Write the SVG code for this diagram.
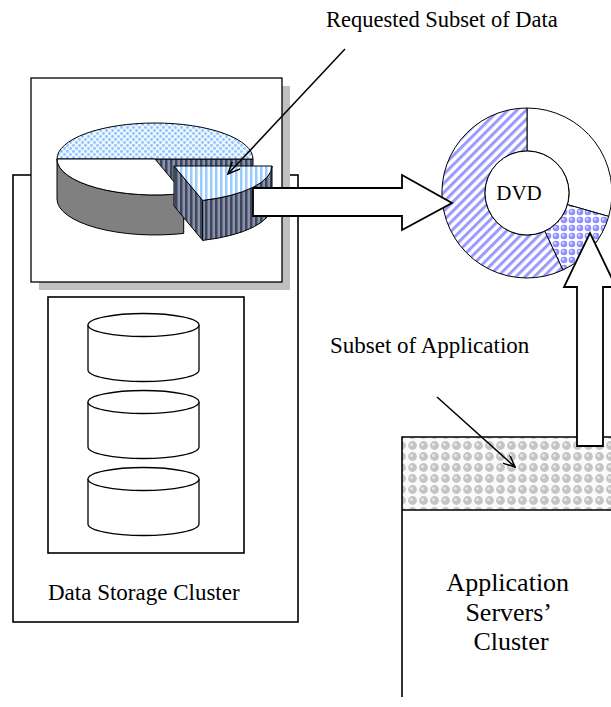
<svg xmlns="http://www.w3.org/2000/svg" width="611" height="707" viewBox="0 0 611 707">
  <style>
    .lbl { font-family: "Liberation Serif", "Times New Roman", serif; fill: #000; }
    .box { fill: #fff; stroke: #000; stroke-width: 1.6; }
    .thin { stroke: #000; stroke-width: 1; }
    .cyl { fill: #fff; stroke: #000; stroke-width: 1.3; }
    .block { fill: #fff; stroke: #000; stroke-width: 1.8; stroke-linejoin: miter; }
    .ptr { fill: none; stroke: #000; stroke-width: 1.5; marker-end: url(#vhead); }
  </style>
  <defs>
    <!-- open V arrowhead for pointer lines -->
    <marker id="vhead" viewBox="0 0 12 10" refX="11" refY="5" markerWidth="13" markerHeight="11" markerUnits="userSpaceOnUse" orient="auto">
      <path d="M0,0 L11,5 L0,10" fill="none" stroke="#000" stroke-width="1.4"/>
    </marker>
    <!-- light blue dotted top face -->
    <pattern id="dots" width="6" height="6" patternUnits="userSpaceOnUse">
      <rect width="6" height="6" fill="#eef6ff"/>
      <circle cx="1.5" cy="1.5" r="1.4" fill="#8fc4ff"/>
      <circle cx="4.5" cy="4.5" r="1.4" fill="#8fc4ff"/>
    </pattern>
    <!-- light blue vertical stripes (slice top) -->
    <pattern id="vstripeLight" width="5" height="10" patternUnits="userSpaceOnUse">
      <rect width="5" height="10" fill="#fff"/>
      <rect width="2.5" height="10" fill="#99ccff"/>
    </pattern>
    <!-- dark vertical stripes (slice walls) -->
    <pattern id="vstripeDark" width="5" height="10" patternUnits="userSpaceOnUse">
      <rect width="5" height="10" fill="#8a93a6"/>
      <rect width="2.5" height="10" fill="#3c4660"/>
    </pattern>
    <!-- diagonal blue stripes (DVD ring) -->
    <pattern id="diag" width="6.5" height="8" patternUnits="userSpaceOnUse" patternTransform="rotate(45)">
      <rect width="6.5" height="8" fill="#fff"/>
      <rect width="3" height="8" fill="#9999ff"/>
    </pattern>
    <!-- blue sphere checker (DVD ring) -->
    <pattern id="blueBalls" width="8" height="8" patternUnits="userSpaceOnUse">
      <rect width="8" height="8" fill="#fff"/>
      <circle cx="4" cy="4" r="3.3" fill="#8f8fff"/>
      <circle cx="3.2" cy="3.2" r="1.2" fill="#d8d8ff"/>
    </pattern>
    <!-- gray sphere checker (application band) -->
    <pattern id="grayBalls" width="11" height="11" patternUnits="userSpaceOnUse">
      <rect width="11" height="11" fill="#fafafa"/>
      <circle cx="5.5" cy="5.5" r="4.4" fill="#c4c4c4"/>
      <circle cx="4.5" cy="4.5" r="1.5" fill="#e8e8e8"/>
    </pattern>
  </defs>

  <!-- data storage cluster -->
  <g id="storage-cluster">
    <rect class="box" x="13" y="175" width="285" height="447"/>
    <rect class="box" x="48" y="297" width="196" height="256"/>
    <g id="disk-1">
      <path class="cyl" d="M88,325 L88,370 A55.5,11.5 0 0 0 199,370 L199,325"/>
      <ellipse class="cyl" cx="143.5" cy="325" rx="55.5" ry="11.5"/>
    </g>
    <g id="disk-2">
      <path class="cyl" d="M88,402 L88,447 A55.5,11.5 0 0 0 199,447 L199,402"/>
      <ellipse class="cyl" cx="143.5" cy="402" rx="55.5" ry="11.5"/>
    </g>
    <g id="disk-3">
      <path class="cyl" d="M88,479 L88,524 A55.5,11.5 0 0 0 199,524 L199,479"/>
      <ellipse class="cyl" cx="143.5" cy="479" rx="55.5" ry="11.5"/>
    </g>
    <text class="lbl" x="48" y="600" font-size="23">Data Storage Cluster</text>
  </g>

  <!-- dataset pie chart with the requested slice pulled out -->
  <g id="dataset">
    <rect x="39" y="86" width="251" height="204" fill="#c0c0c0"/>
    <rect x="31" y="78" width="251" height="204" fill="#fff" stroke="#000" stroke-width="1.3"/>
    <!-- main pie -->
    <path d="M155,159 L253,159 L253,199 L155,199 Z" fill="url(#vstripeDark)" class="thin"/>
    <path d="M57,159 A98,36 0 0 0 183.7,193.4 L183.7,233.4 A98,36 0 0 1 57,199 Z" fill="#808080" class="thin"/>
    <path d="M57,159 A98,36 0 0 1 253,159 Z" fill="url(#dots)" class="thin"/>
    <path d="M155,159 L57,159 A98,36 0 0 0 183.7,193.4 Z" fill="#fff" class="thin"/>
    <!-- requested slice -->
    <path d="M174,166 L202.7,200.4 L202.7,240.4 L174,206 Z" fill="url(#vstripeDark)" class="thin"/>
    <path d="M272,166 A98,36 0 0 1 202.7,200.4 L202.7,240.4 A98,36 0 0 0 272,206 Z" fill="url(#vstripeDark)" class="thin"/>
    <path d="M174,166 L272,166 A98,36 0 0 1 202.7,200.4 Z" fill="url(#vstripeLight)" class="thin"/>
  </g>

  <!-- DVD ring -->
  <g id="dvd">
    <path d="M527,108 A85,85 0 0 1 608.7,216.4 L567.4,204.6 A42,42 0 0 0 527,151 Z" fill="#fff" class="thin"/>
    <path d="M608.7,216.4 A85,85 0 0 1 562.9,270 L544.7,231.1 A42,42 0 0 0 567.4,204.6 Z" fill="url(#blueBalls)" class="thin"/>
    <path d="M562.9,270 A85,85 0 1 1 527,108 L527,151 A42,42 0 1 0 544.7,231.1 Z" fill="url(#diag)" class="thin"/>
    <circle cx="527" cy="193" r="42" fill="#fff" class="thin"/>
    <text class="lbl" x="519" y="200" font-size="21" text-anchor="middle">DVD</text>
  </g>

  <!-- application servers cluster -->
  <g id="app-cluster">
    <rect x="402" y="437" width="215" height="290" fill="#fff"/>
    <rect x="402" y="437" width="215" height="73" fill="url(#grayBalls)"/>
    <path d="M402,697 L402,437 L617,437 M402,510 L617,510" fill="none" stroke="#000" stroke-width="1.6"/>
    <text class="lbl" font-size="26" text-anchor="middle">
      <tspan x="511" y="591">Application</tspan>
      <tspan x="511" y="621">Servers’</tspan>
      <tspan x="511" y="650">Cluster</tspan>
    </text>
  </g>

  <!-- labels -->
  <text class="lbl" x="326" y="27" font-size="22.5">Requested Subset of Data</text>
  <text class="lbl" x="330" y="353" font-size="23">Subset of Application</text>

  <!-- connectors -->
  <g id="connectors">
    <path class="ptr" d="M345,49 L228,174"/>
    <path class="ptr" d="M437,397 L515,467"/>
    <path class="block" d="M253,188 L402,188 L402,175 L452,203 L402,230 L402,216 L253,216 Z"/>
    <path class="block" d="M577,446 L577,287 L564,287 L590,233 L616,287 L603,287 L603,446 Z"/>
  </g>
</svg>
